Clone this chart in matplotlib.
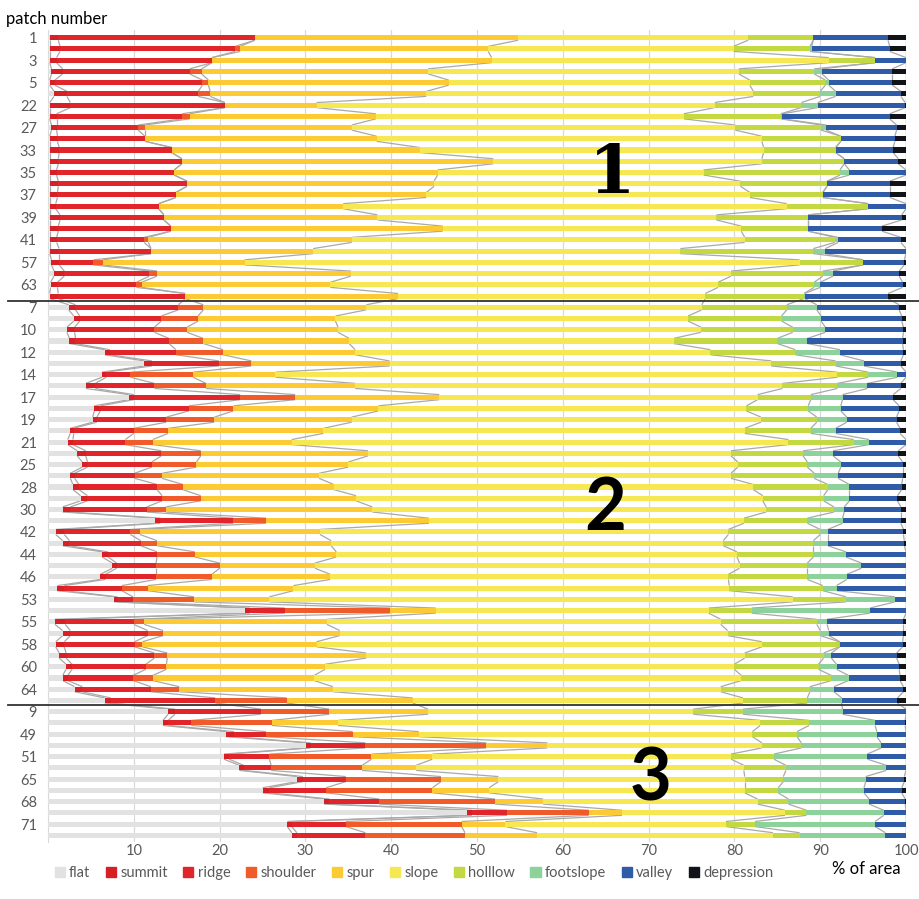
import numpy as np
import matplotlib.pyplot as plt
from matplotlib.collections import LineCollection
from matplotlib.patches import Patch

plt.rcParams['font.family'] = ['Lato', 'DejaVu Sans']

# patch numbers, top to bottom, for the three groups
group1 = [1, 2, 3, 4, 5, 6, 22, 23, 27, 32, 33, 34, 35, 36, 37, 38, 39, 40, 41, 48, 57, 62, 63, 69]
group2 = [7, 8, 10, 11, 12, 13, 14, 16, 17, 18, 19, 20, 21, 24, 25, 26, 28, 29, 30, 31,
          42, 43, 44, 45, 46, 47, 53, 54, 55, 56, 58, 59, 60, 61, 64, 66]
group3 = [9, 15, 49, 50, 51, 52, 65, 67, 68, 70, 71, 72]
patches = group1 + group2 + group3

classes = ['flat', 'summit', 'ridge', 'shoulder', 'spur', 'slope', 'holllow',
           'footslope', 'valley', 'depression']
colors = ['#e2e2e2', '#d71f26', '#e0252b', '#f15a29', '#fccb33', '#f6e852',
          '#c4d842', '#8dd19b', '#2f5ba7', '#101418']

# % of area for each landform class, one value per patch in the order above
flat = [0.2, 0.2, 0.2, 0.4, 0.2, 0.7, 0.2, 0.2, 0.4, 0.2, 0.2, 0.2, 0.2, 0.2, 0.2, 0.2, 0.2, 0.2, 0.2, 0.2, 0.4, 0.7, 0.3, 0.2,
        2.4, 3.0, 2.2, 2.5, 6.6, 11.2, 6.3, 4.4, 9.4, 5.4, 5.2, 2.6, 2.3, 3.4, 4.0, 2.6, 2.9, 3.8, 1.7, 12.5, 0.9, 1.7, 6.3, 7.5, 6.1, 1.1, 7.7, 23.0, 0.8, 1.7, 0.9, 1.3, 2.1, 1.7, 3.1, 6.6,
        14.0, 13.4, 20.8, 30.1, 20.5, 22.3, 29.0, 25.0, 32.2, 48.8, 27.9, 28.4]
summit = [1.0, 1.2, 0.8, 1.3, 0.6, 1.5, 2.4, 0.8, 0.6, 0.9, 1.1, 1.0, 0.8, 1.0, 0.9, 0.7, 1.2, 1.0, 0.8, 1.1, 0.9, 1.2, 0.8, 1.0,
          0.8, 0.7, 0.9, 0.7, 0.6, 0.9, 0.5, 1.1, 0.6, 0.7, 0.5, 0.4, 0.6, 1.0, 0.6, 0.5, 0.7, 0.8, 0.9, 0.6, 1.0, 0.8, 0.7, 0.5, 0.6, 0.8, 0.4, 0.5, 1.2, 0.9, 1.0, 0.8, 0.7, 0.6, 0.9, 0.7,
          0.8, 0.6, 0.9, 0.5, 0.6, 0.5, 0.7, 0.8, 0.6, 0.6, 0.5, 0.6]
ridge = [22.9, 20.4, 18.1, 14.8, 17.2, 15.3, 18.0, 14.6, 9.5, 10.2, 13.1, 14.4, 13.7, 15.0, 13.8, 12.0, 12.1, 13.1, 10.2, 10.7, 4.0, 9.9, 9.2, 14.8,
         12.0, 9.5, 9.3, 10.9, 7.7, 7.8, 2.8, 6.9, 12.4, 10.3, 8.1, 7.0, 6.1, 8.8, 7.5, 7.0, 9.1, 8.7, 8.9, 8.5, 7.7, 8.3, 5.7, 4.6, 5.9, 6.7, 1.8, 4.1, 8.0, 9.0, 8.2, 10.3, 8.6, 7.6, 8.0, 12.2,
         10.0, 2.7, 3.7, 6.4, 4.7, 3.2, 5.0, 6.6, 5.8, 4.1, 6.3, 8.0]
shoulder = [0, 0.6, 0, 1.4, 0.7, 1.4, 0, 0.9, 0.8, 0, 0, 0, 0, 0, 0, 0, 0, 0, 0.5, 0, 1.1, 0.9, 0.6, 0,
            2.9, 4.3, 3.8, 4.0, 5.5, 3.8, 7.3, 6.0, 6.4, 5.2, 5.6, 4.0, 3.2, 4.6, 5.2, 3.2, 3.0, 4.5, 2.2, 3.8, 1.1, 1.9, 4.4, 7.4, 6.5, 3.0, 7.1, 12.3, 1.2, 1.8, 0.9, 1.5, 2.4, 2.3, 3.3, 8.3,
            8.0, 9.4, 10.1, 14.1, 11.9, 10.6, 11.1, 12.4, 13.5, 9.5, 13.5, 11.6]
spur = [30.7, 28.9, 32.6, 26.4, 28.0, 25.2, 10.7, 21.7, 24.1, 27.0, 28.9, 36.3, 30.7, 28.8, 29.2, 21.5, 24.9, 31.7, 23.7, 18.9, 16.5, 22.6, 22.0, 24.8,
        19.0, 16.0, 17.6, 17.0, 15.4, 16.1, 9.6, 17.4, 16.8, 16.9, 16.0, 18.1, 16.2, 19.5, 17.7, 18.3, 17.6, 18.1, 24.1, 19.0, 21.0, 20.3, 16.5, 11.1, 13.8, 17.0, 8.8, 5.3, 21.3, 20.6, 20.3, 23.2, 18.5, 18.8, 17.9, 14.7,
        11.5, 7.7, 7.7, 7.1, 7.1, 6.3, 6.7, 6.6, 5.6, 3.9, 5.1, 8.4]
slope = [26.8, 28.6, 39.3, 36.2, 35.1, 38.1, 46.4, 35.9, 44.7, 44.9, 40.1, 31.3, 31.0, 35.7, 37.7, 51.7, 39.5, 34.8, 45.8, 42.8, 64.7, 44.3, 45.2, 35.8,
         39.1, 41.1, 42.3, 37.8, 41.4, 44.5, 65.5, 49.8, 37.1, 42.9, 47.7, 49.1, 57.9, 42.3, 45.4, 48.0, 48.9, 47.4, 45.9, 36.7, 47.6, 45.7, 46.7, 49.5, 46.4, 50.8, 61.0, 31.8, 45.9, 45.2, 51.9, 44.1, 47.7, 49.8, 45.2, 38.5,
         30.9, 49.2, 38.9, 25.0, 34.8, 38.2, 28.7, 29.8, 25.0, 19.0, 25.7, 27.5]
hollow = [7.6, 8.9, 5.4, 8.8, 8.8, 7.8, 10.1, 11.3, 10.0, 9.2, 8.4, 9.6, 15.9, 10.1, 8.5, 9.5, 10.7, 7.8, 10.5, 15.5, 7.4, 10.7, 11.2, 11.5,
          9.9, 10.9, 10.7, 12.1, 9.9, 7.5, 3.6, 6.4, 6.2, 7.2, 6.5, 7.7, 7.6, 8.4, 8.1, 9.7, 8.7, 7.1, 7.9, 7.4, 10.7, 10.5, 8.9, 7.9, 9.2, 10.9, 6.2, 5.0, 11.2, 10.8, 9.0, 9.2, 9.8, 10.5, 10.4, 7.5,
          5.8, 5.7, 5.2, 4.6, 5.0, 4.9, 4.5, 3.9, 3.6, 2.5, 3.4, 3.1]
footslope = [0, 0.2, 0, 0.9, 0.4, 1.8, 1.9, 0.2, 0.6, 0, 0, 0, 1.1, 0, 0, 0, 0, 0, 0.4, 1.4, 0, 1.2, 0.7, 0.1,
             3.5, 4.6, 3.8, 3.5, 5.2, 3.3, 3.4, 3.5, 3.7, 3.8, 3.5, 2.9, 1.8, 3.5, 3.9, 2.8, 2.5, 3.0, 1.2, 4.1, 0.9, 1.7, 3.8, 6.3, 4.6, 1.6, 5.7, 13.8, 1.2, 1.0, 0.1, 0.9, 2.1, 2.0, 2.8, 4.0,
             11.6, 7.7, 9.3, 9.3, 10.9, 11.7, 9.6, 10.0, 9.4, 9.0, 14.0, 10.0]
valley = [8.7, 9.1, 3.6, 8.2, 7.4, 7.6, 10.2, 12.5, 8.2, 6.3, 6.7, 6.3, 6.6, 7.3, 7.8, 4.4, 10.9, 8.6, 7.3, 9.4, 4.8, 7.7, 9.6, 9.7,
          9.6, 9.4, 9.1, 11.1, 7.4, 4.3, 1.0, 3.9, 5.9, 6.8, 5.8, 7.5, 4.3, 7.6, 7.2, 7.5, 6.1, 5.6, 6.6, 6.8, 8.8, 8.9, 7.0, 5.2, 6.9, 8.1, 1.3, 4.2, 8.9, 8.7, 7.3, 7.6, 7.3, 6.0, 8.1, 6.5,
          7.4, 3.5, 3.4, 2.9, 4.5, 2.3, 4.5, 4.4, 4.2, 2.6, 3.6, 2.4]
depression = [2.1, 1.9, 0, 1.6, 1.6, 0.6, 0.1, 1.9, 1.1, 1.3, 1.5, 0.9, 0, 1.9, 1.9, 0, 0.5, 2.8, 0.6, 0, 0.2, 0.8, 0.4, 2.1,
              0.8, 0.5, 0.3, 0.4, 0.3, 0.6, 0, 0.6, 1.5, 0.8, 1.1, 0.7, 0, 0.9, 0.4, 0.4, 0.5, 1.0, 0.6, 0.6, 0.3, 0.2, 0, 0, 0, 0, 0, 0, 0.3, 0.3, 0.4, 1.1, 0.8, 0.7, 0.3, 1.0,
              0, 0.1, 0, 0, 0, 0, 0.2, 0.5, 0.1, 0, 0, 0]

data = np.array([flat, summit, ridge, shoulder, spur, slope, hollow,
                 footslope, valley, depression]).T
n = len(patches)
y = np.arange(n)
ends = np.cumsum(data, axis=1)
starts = ends - data
h = 0.45

fig = plt.figure(figsize=(9.2, 8.99), dpi=100)
ax = fig.add_axes([0.0522, 0.0634, 0.9326, 0.9028])

for k, name in enumerate(classes):
    ax.barh(y, data[:, k], left=starts[:, k], height=h, color=colors[k],
            edgecolor='none', zorder=3, label=name)

# series lines joining the class boundaries of neighbouring bars
segs = []
for k in range(len(classes)):
    for i in range(n - 1):
        segs.append([(ends[i, k], i + h / 2), (ends[i + 1, k], i + 1 - h / 2)])
ax.add_collection(LineCollection(segs, colors='#a9a9a9', linewidths=0.9, zorder=2))

ax.set_xlim(0, 100)
ax.set_ylim(n - 0.4, -0.65)
ax.set_xticks(np.arange(10, 101, 10))
ax.set_yticks(y[::2])
ax.set_yticklabels([str(p) for p in patches[::2]])
ax.tick_params(axis='both', length=0, labelsize=10.5, colors='#595959')
ax.tick_params(axis='y', pad=8)
ax.tick_params(axis='x', pad=1.5)
ax.grid(axis='x', color='#d9d9d9', linewidth=0.9, zorder=0)
for side in ['top', 'right', 'bottom']:
    ax.spines[side].set_visible(False)
ax.spines['left'].set_color('#d9d9d9')

# group separators
for b in [len(group1), len(group1) + len(group2)]:
    ax.plot([-4.7, 101.6], [b - 0.6, b - 0.6], color='#333333', lw=1.3,
            clip_on=False, zorder=5)

ax.text(65.7, 12.2, '1', fontsize=48, fontweight='bold', family='DejaVu Serif',
        ha='center', va='center', zorder=6)
ax.text(65.0, 42.0, '2', fontsize=52, fontweight='bold', ha='center', va='center', zorder=6)
ax.text(70.2, 66.1, '3', fontsize=52, fontweight='bold', ha='center', va='center', zorder=6)

fig.text(0.006, 0.979, 'patch number', fontsize=12, va='center', ha='left')
fig.text(0.942, 0.0335, '% of area', fontsize=12, va='center', ha='center')

handles = [Patch(color=c) for c in colors]
fig.legend(handles, classes, loc='center left', bbox_to_anchor=(0.045, 0.029),
           ncol=10, frameon=False, fontsize=10.5, handlelength=0.7, handleheight=0.7,
           handletextpad=0.3, columnspacing=1.05, labelcolor='#595959')

fig.savefig('out.png', dpi=100)
